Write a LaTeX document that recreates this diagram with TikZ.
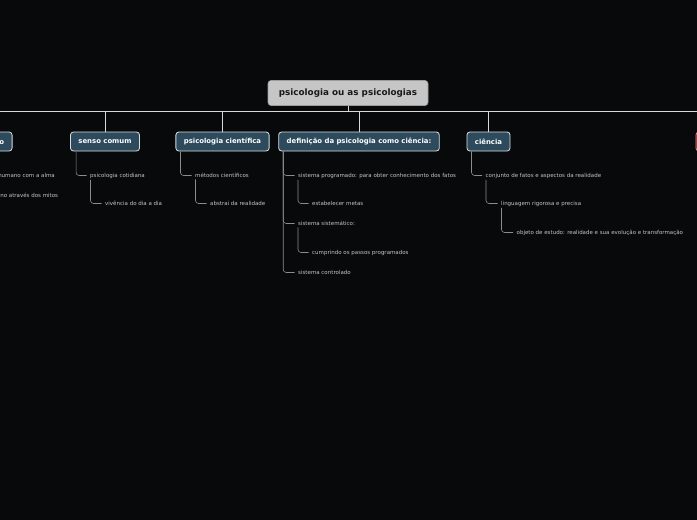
\documentclass[tikz,border=0pt]{standalone}
\usepackage{fontspec}
\setmainfont{DejaVu Sans}
\usetikzlibrary{positioning,calc}
\definecolor{bgc}{HTML}{08090B}
\definecolor{boxfl}{HTML}{2E4A5D}
\definecolor{boxln}{HTML}{D8DDE0}
\definecolor{rootfl}{HTML}{C6C6C6}
\definecolor{rootln}{HTML}{9C9C9C}
\definecolor{itemc}{HTML}{C4C4C4}
\definecolor{subc}{HTML}{8C8C8C}
\definecolor{redfl}{HTML}{7C1518}
\definecolor{redln}{HTML}{D08C8C}
\tikzset{
  rootbox/.style={draw=rootln,fill=rootfl,rounded corners=3pt,line width=0.6pt,text=black!90,
    font=\fontsize{8.8}{10}\selectfont\bfseries,minimum height=25pt,minimum width=160pt,inner ysep=0pt},
  topic/.style={draw=boxln,fill=boxfl,rounded corners=3pt,line width=0.8pt,text=white,
    font=\fontsize{6.9}{8}\selectfont\bfseries,minimum height=19pt,inner xsep=8pt,inner ysep=0pt},
  item/.style={font=\fontsize{5.5}{6}\selectfont,text=itemc,inner xsep=3.5pt,inner ysep=1.5pt},
  mainln/.style={draw=white!85!black,line width=0.9pt},
  subln/.style={draw=subc,line width=0.6pt,rounded corners=3pt},
}
\begin{document}
\begin{tikzpicture}[x=1pt,y=-1pt]
  \useasboundingbox (0,0) rectangle (697,520);
  \fill[bgc] (0,0) rectangle (697,520);
  \clip (0,0) rectangle (697,520);

  % root and bus
  \node[rootbox] (root) at (348,93) {psicologia ou as psicologias};
  \coordinate (busL) at (-10,111);
  \coordinate (busR) at (710,111);
  \coordinate (bus) at (root.south |- busL);
  \draw[mainln] (busL) -- (busR);
  \draw[mainln] (root.south) -- (bus);

  % main topics
  \node[topic,anchor=east] (mito) at (12.5,141.5) {mito};
  \node[topic] (senso) at (105,141.5) {senso comum};
  \node[topic] (cient) at (222.5,141.5) {psicologia científica};
  \node[topic] (defin) at (359,141.5) {definição da psicologia como ciência:};
  \node[topic] (ciencia) at (488.5,141.5) {ciência};
  \node[topic,anchor=west,draw=redln,fill=redfl,minimum width=60pt] (red) at (695.5,141.5) {};
  \foreach \t in {senso,cient,defin,ciencia}
    \draw[mainln] (\t.north) -- (\t.north |- bus);

  % items, partly hidden topic
  \node[item,anchor=east] (alma) at (58.5,175.5) {ser humano com a alma};
  \node[item,anchor=east] (mitos) at (61.8,195.5) {humano através dos mitos};

  % senso comum
  \node[item,anchor=west] (cotid) at (86.5,175.5) {psicologia cotidiana};
  \node[item,anchor=west] (vivdia) at (101.5,203.5) {vivência  do dia a dia};
  \draw[subln] ([xshift=6pt]senso.south west) |- (cotid.west);
  \draw[subln] ([xshift=4pt]cotid.south west) |- (vivdia.west);

  % psicologia cientifica
  \node[item,anchor=west] (metodos) at (191.5,175.5) {métodos científicos};
  \node[item,anchor=west] (abstrai) at (206.5,203.5) {abstrai da realidade};
  \draw[subln] ([xshift=5pt]cient.south west) |- (metodos.west);
  \draw[subln] ([xshift=4pt]metodos.south west) |- (abstrai.west);

  % definicao
  \node[item,anchor=west] (sprog) at (294.5,175.5) {sistema programado: para obter conhecimento dos fatos};
  \node[item,anchor=west] (metas) at (308.5,203.5) {estabelecer metas};
  \node[item,anchor=west] (ssist) at (294.5,223.5) {sistema sistemático:};
  \node[item,anchor=west] (passos) at (308.5,252.5) {cumprindo os passos programados};
  \node[item,anchor=west] (scont) at (294.5,272.5) {sistema controlado};
  \draw[subln] ([xshift=5pt]defin.south west) |- (sprog.west);
  \draw[subln] ([xshift=5pt]defin.south west) |- (ssist.west);
  \draw[subln] ([xshift=5pt]defin.south west) |- (scont.west);
  \draw[subln] ([xshift=3.5pt]sprog.south west) |- (metas.west);
  \draw[subln] ([xshift=3.5pt]ssist.south west) |- (passos.west);

  % ciencia
  \node[item,anchor=west] (conj) at (482,175.5) {conjunto de fatos e aspectos da realidade};
  \node[item,anchor=west] (lingua) at (497.5,203.5) {linguagem rigorosa e precisa};
  \node[item,anchor=west] (objeto) at (513,232.5) {objeto de estudo: realidade e sua evolução e transformação};
  \draw[subln] ([xshift=5pt]ciencia.south west) |- (conj.west);
  \draw[subln] ([xshift=4pt]conj.south west) |- (lingua.west);
  \draw[subln] ([xshift=4pt]lingua.south west) |- (objeto.west);
\end{tikzpicture}
\end{document}
